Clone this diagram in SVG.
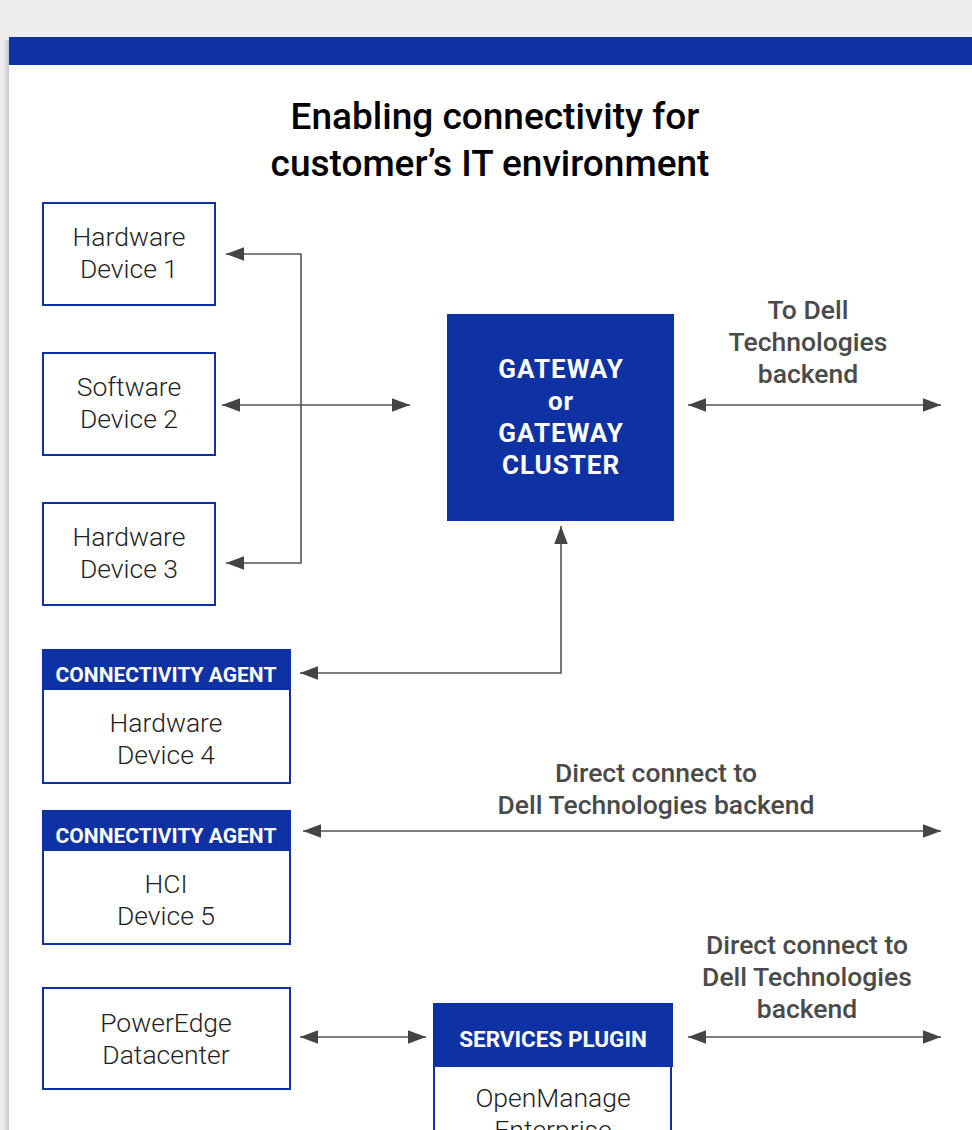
<svg xmlns="http://www.w3.org/2000/svg" width="972" height="1130" viewBox="0 0 972 1130">
<style>
.box{fill:#fff;stroke:#0e32a3;stroke-width:2}
.blue{fill:#0e32a3}
.dev{font-family:Roboto,"Liberation Sans",sans-serif;font-weight:300;font-size:26.5px;fill:#1e1e1e;text-anchor:middle}
.hdr{font-family:Roboto,"Liberation Sans",sans-serif;font-weight:700;font-size:21px;fill:#fff;text-anchor:middle}
.hdr2{font-family:Roboto,"Liberation Sans",sans-serif;font-weight:700;font-size:22.5px;fill:#fff;text-anchor:middle}
.gw{font-family:Roboto,"Liberation Sans",sans-serif;font-weight:700;font-size:26px;fill:#fff;text-anchor:middle;letter-spacing:1px}
.lbl{font-family:Roboto,"Liberation Sans",sans-serif;font-weight:500;font-size:26.5px;fill:#4a4a4a;text-anchor:middle}
.title{font-family:Roboto,"Liberation Sans",sans-serif;font-weight:500;font-size:37px;fill:#000;text-anchor:middle}
.conn{fill:none;stroke:#555;stroke-width:1.6;marker-start:url(#ah);marker-end:url(#ah)}
</style>
<defs>
<marker id="ah" markerUnits="userSpaceOnUse" markerWidth="18" markerHeight="14" refX="16" refY="6" orient="auto-start-reverse" viewBox="0 0 16 12">
<path d="M0,0 L16,6 L0,12 z" fill="#444"/>
</marker>
<linearGradient id="sh" x1="0" y1="0" x2="1" y2="0">
<stop offset="0" stop-color="#eeeeee"/>
<stop offset="1" stop-color="#c8c8c8"/>
</linearGradient>
</defs>
<rect x="0" y="0" width="972" height="1130" fill="#eeeeee"/>
<rect x="3" y="40" width="6" height="1090" fill="url(#sh)"/>
<rect x="9" y="37" width="963" height="1093" fill="#fff"/>
<rect x="9" y="37" width="963" height="28" class="blue"/>
<g id="title">
<text class="title" x="495" y="129">Enabling connectivity for</text>
<text class="title" x="490" y="176">customer’s IT environment</text>
</g>
<g id="connectors">
<path class="conn" d="M226,254 H301 V563 H226"/>
<path class="conn" d="M222,405 H410"/>
<path class="conn" d="M688,405 H941"/>
<path class="conn" d="M561,526 V673 H300"/>
<path class="conn" d="M303,831 H941"/>
<path class="conn" d="M300,1037 H426"/>
<path class="conn" d="M688,1037 H941"/>
</g>
<g id="hw1">
<rect class="box" x="43" y="203" width="172" height="102"/>
<text class="dev" x="129" y="246">Hardware</text>
<text class="dev" x="129" y="278">Device 1</text>
</g>
<g id="sw2">
<rect class="box" x="43" y="353" width="172" height="102"/>
<text class="dev" x="129" y="396">Software</text>
<text class="dev" x="129" y="428">Device 2</text>
</g>
<g id="hw3">
<rect class="box" x="43" y="503" width="172" height="102"/>
<text class="dev" x="129" y="546">Hardware</text>
<text class="dev" x="129" y="578">Device 3</text>
</g>
<g id="gateway">
<rect class="blue" x="447" y="314" width="227" height="207"/>
<text class="gw" x="561" y="378">GATEWAY</text>
<text class="gw" x="561" y="410">or</text>
<text class="gw" x="561" y="442">GATEWAY</text>
<text class="gw" x="561" y="474">CLUSTER</text>
</g>
<g id="label-backend1">
<text class="lbl" x="808" y="319">To Dell</text>
<text class="lbl" x="808" y="351">Technologies</text>
<text class="lbl" x="808" y="383">backend</text>
</g>
<g id="hw4">
<rect class="box" x="43" y="650" width="247" height="133"/>
<rect class="blue" x="42" y="649" width="249" height="41"/>
<text class="hdr" x="166" y="682">CONNECTIVITY AGENT</text>
<text class="dev" x="166" y="732">Hardware</text>
<text class="dev" x="166" y="764">Device 4</text>
</g>
<g id="label-direct1">
<text class="lbl" x="656" y="782">Direct connect to</text>
<text class="lbl" x="656" y="814">Dell Technologies backend</text>
</g>
<g id="hci5">
<rect class="box" x="43" y="811" width="247" height="133"/>
<rect class="blue" x="42" y="810" width="249" height="41"/>
<text class="hdr" x="166" y="843">CONNECTIVITY AGENT</text>
<text class="dev" x="166" y="893">HCI</text>
<text class="dev" x="166" y="925">Device 5</text>
</g>
<g id="poweredge">
<rect class="box" x="43" y="988" width="247" height="101"/>
<text class="dev" x="166" y="1032">PowerEdge</text>
<text class="dev" x="166" y="1064">Datacenter</text>
</g>
<g id="plugin">
<rect class="box" x="434" y="1004" width="237" height="140"/>
<rect class="blue" x="433" y="1003" width="240" height="64"/>
<text class="hdr2" x="553" y="1047">SERVICES PLUGIN</text>
<text class="dev" x="553" y="1107">OpenManage</text>
<text class="dev" x="553" y="1139">Enterprise</text>
</g>
<g id="label-direct2">
<text class="lbl" x="807" y="954">Direct connect to</text>
<text class="lbl" x="807" y="986">Dell Technologies</text>
<text class="lbl" x="807" y="1018">backend</text>
</g>
</svg>
